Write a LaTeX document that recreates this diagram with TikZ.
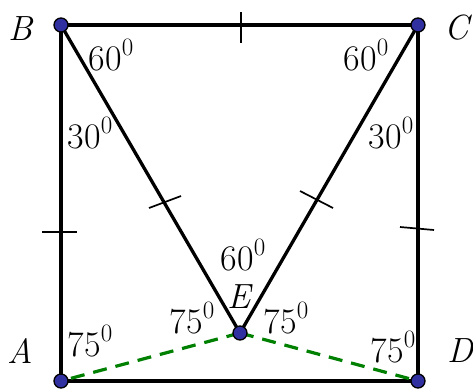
\documentclass[tikz,border=0pt]{standalone}
\usepackage{fontspec}
\newcommand{\dgr}[1]{#1\raisebox{0.42em}{\fontsize{25}{30}\selectfont 0}}
\begin{document}
\begin{tikzpicture}[x=1pt,y=-1pt,
  side/.style={line width=3.3pt, line cap=round, line join=round},
  tickmark/.style={line width=1.7pt},
  greendash/.style={line width=3.2pt, draw={rgb,255:red,0;green,128;blue,0}, dash pattern=on 14pt off 9pt},
  vdot/.style={circle, draw=black, line width=1.3pt, fill={rgb,255:red,48;green,48;blue,160}, minimum size=14pt, inner sep=0pt},
  lbl/.style={font=\fontsize{36}{42}\selectfont, inner sep=0pt},
  vl/.style={font=\fontsize{35}{42}\selectfont\itshape, inner sep=0pt}]
\useasboundingbox (0,0) rectangle (473,389);
\coordinate (A) at (61,381);
\coordinate (B) at (61,25);
\coordinate (C) at (418,25);
\coordinate (D) at (418,381);
\coordinate (E) at (240,333);
% square
\draw[side] (A) -- (B) -- (C) -- (D) -- cycle;
% triangle
\draw[side] (B) -- (E) -- (C);
% green dashed
\draw[greendash] (E) -- (A);
\draw[greendash] (E) -- (D);
% tick marks
\draw[tickmark] (241,12) -- (241,43);
\draw[tickmark] (42,232) -- (77,232);
\draw[tickmark] (400,227) -- (434,230);
\draw[tickmark] (149,208) -- (181,196);
\draw[tickmark] (300,191) -- (333,208);
% vertices
\node[vdot] (nA) at (A) {};
\node[vdot] (nB) at (B) {};
\node[vdot] (nC) at (C) {};
\node[vdot] (nD) at (D) {};
\node[vdot] (nE) at (E) {};
% vertex labels
\node[vl] (lA) at (20,351) {A};
\node[vl] (lB) at (21,29) {B};
\node[vl] (lC) at (457,28) {C};
\node[vl] (lD) at (460,351) {D};
\node[vl] (lE) at (239,297) {E};
% angle labels
\node[lbl] (a1) at (111,55) {\dgr{60}};
\node[lbl] (a2) at (90,133) {\dgr{30}};
\node[lbl] (a3) at (366,55) {\dgr{60}};
\node[lbl] (a4) at (391,133) {\dgr{30}};
\node[lbl] (a5) at (243,255) {\dgr{60}};
\node[lbl] (a6) at (192,318) {\dgr{75}};
\node[lbl] (a7) at (286,318) {\dgr{75}};
\node[lbl] (a8) at (90,341) {\dgr{75}};
\node[lbl] (a9) at (393,347) {\dgr{75}};
\end{tikzpicture}
\end{document}
